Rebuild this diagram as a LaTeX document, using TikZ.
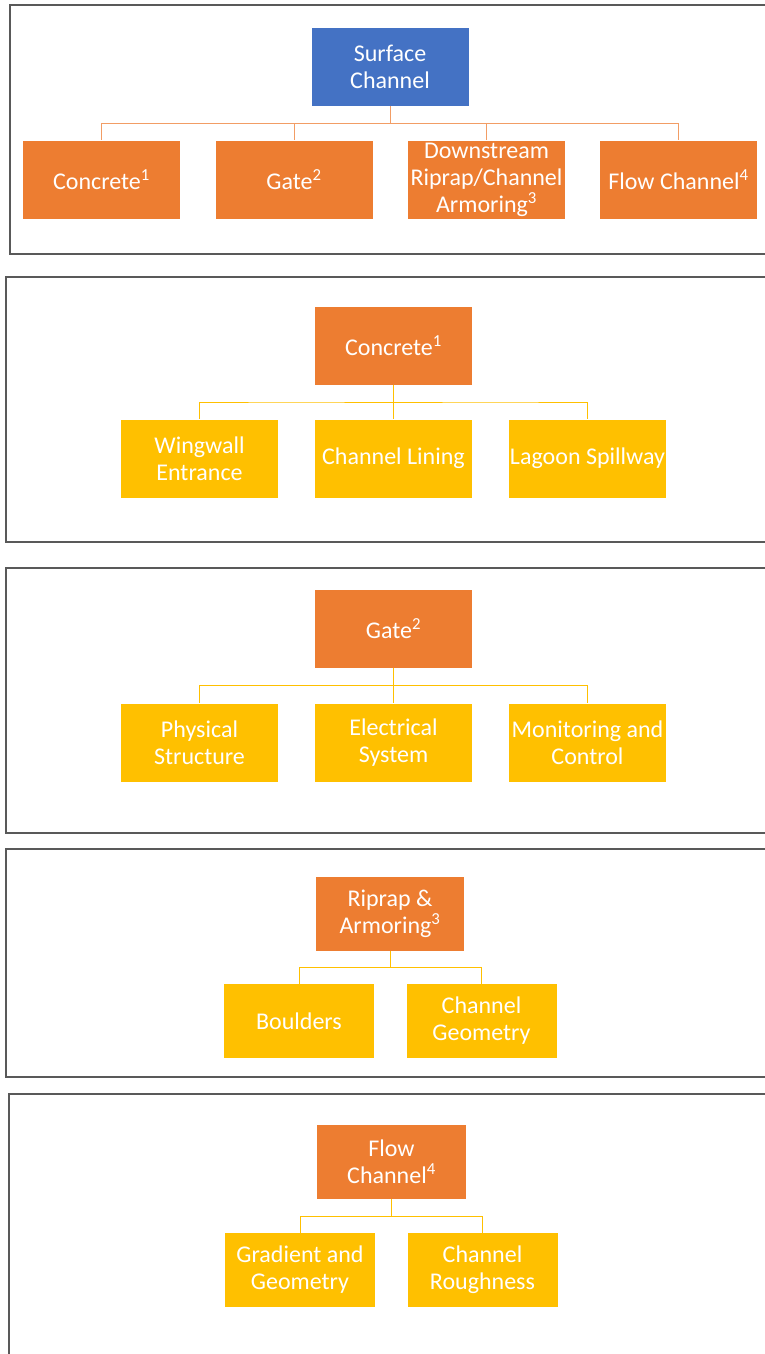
\documentclass[tikz,border=0pt]{standalone}
\usepackage{fontspec}
\setmainfont{Carlito}
\usetikzlibrary{calc}
\definecolor{hblue}{HTML}{4472C4}
\definecolor{horange}{HTML}{ED7D31}
\definecolor{hgold}{HTML}{FFC000}
\definecolor{hframe}{HTML}{595959}
% elbow connector from a parent box down to one child box
\newcommand{\branch}[3][]{
  \draw[#1](#2.south)|-($(#2.south)!0.5!(#3.north)$)-|(#3.north);
}

\begin{document}
\begin{tikzpicture}[x=1pt,y=-1pt,
  box/.style={rectangle,text=white,align=center,font=\fontsize{24}{27}\selectfont,minimum width=157pt,minimum height=78pt,inner sep=1pt},
  rootbox/.style={box,fill=hblue},
  topbox/.style={box,fill=horange},
  subbox/.style={box,fill=hgold},
  small/.style={minimum width=150pt,minimum height=74pt},
  panel/.style={draw=hframe,line width=1.3pt},
  olink/.style={draw=horange!75!white,line width=0.8pt},
  glink/.style={draw=hgold,line width=0.8pt}]
  \useasboundingbox(0,0)rectangle(765,1354);
  \clip(0,0)rectangle(765,1354);

  % panel 1
  \draw[panel](10,5)rectangle(790,254);
  \node[rootbox](sc)at(390,67){Surface\\Channel};
  \node[topbox](con)at(101.5,179.5){Concrete\textsuperscript{1}};
  \node[topbox](gat)at(294,179.5){Gate\textsuperscript{2}};
  \node[topbox](dwn)at(486.5,179.5){Downstream\\Riprap/Channel\\Armoring\textsuperscript{3}};
  \node[topbox](flo)at(678.5,179.5){Flow Channel\textsuperscript{4}};
  \foreach \c in {con,gat,dwn,flo}{\branch[olink]{sc}{\c}}

  % panel 2
  \draw[panel](6,277)rectangle(790,542);
  \node[topbox](con2)at(393.5,345.5){Concrete\textsuperscript{1}};
  \node[subbox](wing)at(199.5,458.5){Wingwall\\Entrance};
  \node[subbox](lin)at(393.5,458.5){Channel Lining};
  \node[subbox](lag)at(587.5,458.5){Lagoon Spillway};
  \foreach \c in {wing,lin,lag}{\branch[glink]{con2}{\c}}

  % panel 3
  \draw[panel](6,568)rectangle(790,833);
  \node[topbox](gat2)at(393.5,628.5){Gate\textsuperscript{2}};
  \node[subbox](phy)at(199.5,742.5){Physical\\Structure};
  \node[subbox](ele)at(393.5,742.5){Electrical\\System};
  \node[subbox](mon)at(587.5,742.5){Monitoring and\\Control};
  \foreach \c in {phy,ele,mon}{\branch[glink]{gat2}{\c}}

  % panel 4
  \draw[panel](6,849)rectangle(790,1077);
  \node[topbox,small,minimum width=148pt](rip)at(390,914){Riprap \&\\Armoring\textsuperscript{3}};
  \node[subbox,small](bou)at(299,1021){Boulders};
  \node[subbox,small](geo)at(481.5,1021){Channel\\Geometry};
  \foreach \c in {bou,geo}{\branch[glink]{rip}{\c}}

  % panel 5
  \draw[panel](9,1094)rectangle(790,1380);
  \node[topbox,small,minimum width=149pt](flo2)at(391.5,1162){Flow\\Channel\textsuperscript{4}};
  \node[subbox,small](gra)at(300,1270){Gradient and\\Geometry};
  \node[subbox,small](rou)at(482.5,1270){Channel\\Roughness};
  \foreach \c in {gra,rou}{\branch[glink]{flo2}{\c}}
\end{tikzpicture}
\end{document}
